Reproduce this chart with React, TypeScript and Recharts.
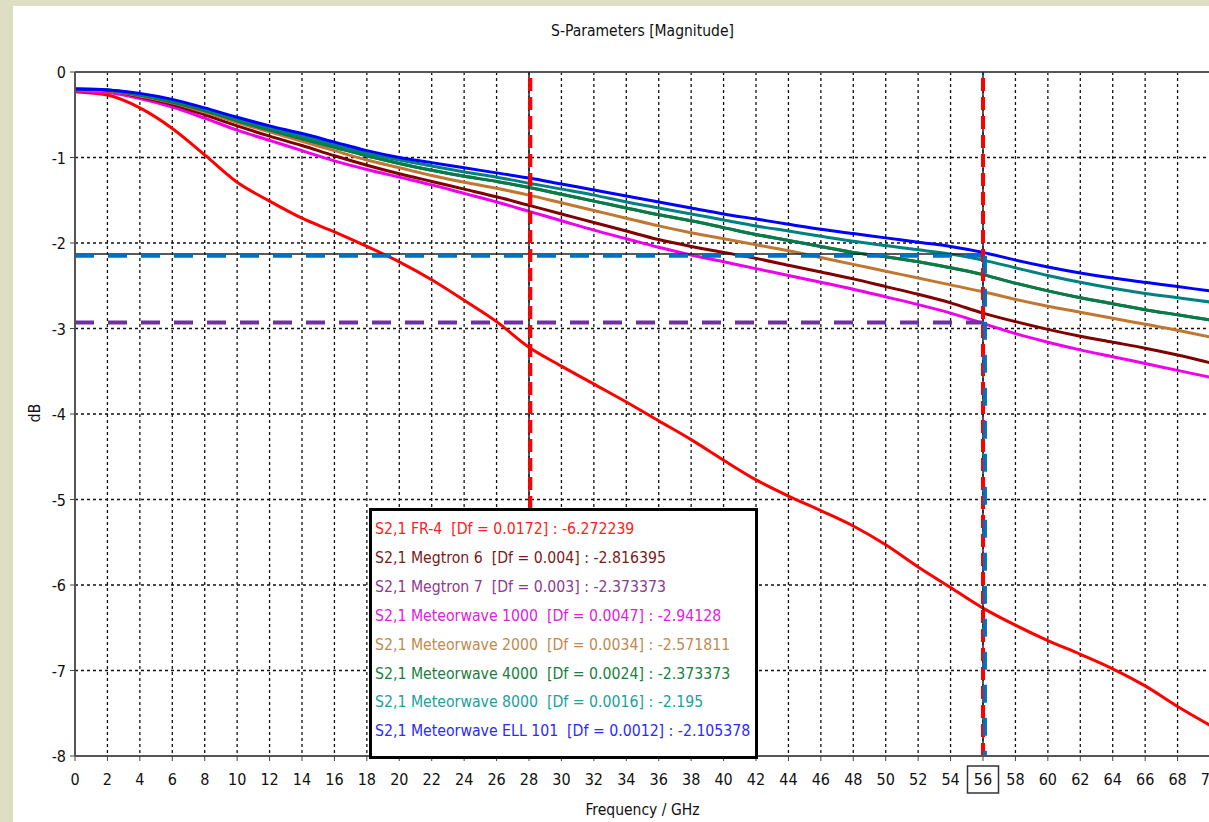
import React from 'react';
import { LineChart, Line, XAxis, YAxis, CartesianGrid, ReferenceLine } from 'recharts';

const freqs = [0, 2, 4, 6, 8, 10, 12, 14, 16, 18, 20, 22, 24, 26, 28, 30, 32, 34, 36, 38, 40, 42, 44, 46, 48, 50, 52, 54, 56, 58, 60, 62, 64, 66, 68, 70];

const fr4 = [-0.23, -0.27, -0.42, -0.66, -0.97, -1.29, -1.51, -1.71, -1.87, -2.04, -2.22, -2.43, -2.67, -2.92, -3.22, -3.44, -3.65, -3.86, -4.08, -4.30, -4.54, -4.77, -4.96, -5.13, -5.31, -5.53, -5.79, -6.03, -6.27, -6.47, -6.65, -6.81, -6.98, -7.18, -7.42, -7.64];
const megtron6 = [-0.21, -0.22, -0.29, -0.38, -0.50, -0.63, -0.75, -0.86, -0.98, -1.09, -1.19, -1.28, -1.37, -1.46, -1.56, -1.66, -1.76, -1.86, -1.96, -2.04, -2.11, -2.18, -2.26, -2.34, -2.42, -2.51, -2.60, -2.70, -2.82, -2.92, -3.01, -3.09, -3.16, -3.23, -3.31, -3.40];
const megtron7 = [-0.20, -0.21, -0.27, -0.35, -0.45, -0.57, -0.68, -0.78, -0.88, -0.98, -1.07, -1.15, -1.22, -1.28, -1.35, -1.43, -1.51, -1.59, -1.67, -1.74, -1.82, -1.90, -1.97, -2.04, -2.11, -2.16, -2.22, -2.29, -2.37, -2.47, -2.56, -2.64, -2.71, -2.78, -2.84, -2.90];
const mw1000 = [-0.22, -0.24, -0.31, -0.41, -0.54, -0.68, -0.80, -0.92, -1.04, -1.14, -1.23, -1.32, -1.42, -1.52, -1.63, -1.74, -1.85, -1.95, -2.05, -2.14, -2.22, -2.30, -2.38, -2.46, -2.54, -2.63, -2.72, -2.82, -2.94, -3.06, -3.16, -3.25, -3.33, -3.41, -3.49, -3.57];
const mw2000 = [-0.21, -0.22, -0.28, -0.36, -0.47, -0.59, -0.70, -0.81, -0.92, -1.03, -1.12, -1.21, -1.29, -1.36, -1.44, -1.53, -1.62, -1.71, -1.80, -1.88, -1.95, -2.02, -2.09, -2.17, -2.25, -2.33, -2.41, -2.49, -2.57, -2.66, -2.74, -2.81, -2.88, -2.95, -3.02, -3.10];
const mw4000 = [-0.20, -0.21, -0.27, -0.35, -0.45, -0.57, -0.68, -0.78, -0.88, -0.98, -1.07, -1.15, -1.22, -1.28, -1.35, -1.43, -1.51, -1.59, -1.67, -1.74, -1.82, -1.90, -1.97, -2.04, -2.11, -2.16, -2.22, -2.29, -2.37, -2.47, -2.56, -2.64, -2.71, -2.78, -2.84, -2.90];
const mw8000 = [-0.20, -0.21, -0.26, -0.33, -0.43, -0.55, -0.65, -0.75, -0.85, -0.95, -1.03, -1.10, -1.17, -1.23, -1.30, -1.37, -1.44, -1.52, -1.59, -1.66, -1.73, -1.80, -1.86, -1.92, -1.98, -2.03, -2.08, -2.13, -2.20, -2.29, -2.38, -2.46, -2.53, -2.59, -2.64, -2.69];
const ell101 = [-0.20, -0.21, -0.25, -0.32, -0.42, -0.53, -0.63, -0.72, -0.82, -0.92, -1.00, -1.06, -1.12, -1.18, -1.24, -1.31, -1.38, -1.45, -1.52, -1.59, -1.66, -1.72, -1.78, -1.84, -1.89, -1.94, -1.99, -2.04, -2.11, -2.20, -2.28, -2.35, -2.41, -2.46, -2.51, -2.56];

const xTicks = [0, 2, 4, 6, 8, 10, 12, 14, 16, 18, 20, 22, 24, 26, 28, 30, 32, 34, 36, 38, 40, 42, 44, 46, 48, 50, 52, 54, 56, 58, 60, 62, 64, 66, 68, 70];
const yTicks = [0, -1, -2, -3, -4, -5, -6, -7, -8];

const markerX1 = 28;
const markerX2 = 56;
const markerBlueY = -2.15;
const markerLineY = -2.13;
const markerPurpleY = -2.93;

const legendLabels = [
  'S2,1 FR-4  [Df = 0.0172] : -6.272239',
  'S2,1 Megtron 6  [Df = 0.004] : -2.816395',
  'S2,1 Megtron 7  [Df = 0.003] : -2.373373',
  'S2,1 Meteorwave 1000  [Df = 0.0047] : -2.94128',
  'S2,1 Meteorwave 2000  [Df = 0.0034] : -2.571811',
  'S2,1 Meteorwave 4000  [Df = 0.0024] : -2.373373',
  'S2,1 Meteorwave 8000  [Df = 0.0016] : -2.195',
  'S2,1 Meteorwave ELL 101  [Df = 0.0012] : -2.105378',
];
const legendColors = ['#FF2020', '#7A1A1A', '#8E3A8E', '#E020E0', '#C08A50', '#1A8040', '#20A0A0', '#2A2AFF'];

const series = [
  { key: 'fr4', values: fr4, color: '#FF0000' },
  { key: 'mw1000', values: mw1000, color: '#EE00EE' },
  { key: 'megtron6', values: megtron6, color: '#800000' },
  { key: 'mw2000', values: mw2000, color: '#C07830' },
  { key: 'megtron7', values: megtron7, color: '#7030A0' },
  { key: 'mw4000', values: mw4000, color: '#008040' },
  { key: 'mw8000', values: mw8000, color: '#008080' },
  { key: 'ell101', values: ell101, color: '#0000FF' },
];

const data = freqs.map((f, i) => {
  const row: any = { f };
  series.forEach((s) => { row[s.key] = s.values[i]; });
  return row;
});

const FONT = "'DejaVu Sans Condensed', 'DejaVu Sans', sans-serif";

const XTick = (props: any) => {
  const { x, y, payload } = props;
  const v = payload.value;
  return (
    <g>
      {v === markerX2 && (
        <rect x={x - 15.5} y={y + 3} width={31} height={27} fill="none" stroke="#333" strokeWidth={1.5} />
      )}
      <text x={x} y={y} dy={22} textAnchor="middle" fontFamily={FONT} fontSize={16} fill="#111">{v}</text>
    </g>
  );
};

const YTick = (props: any) => {
  const { x, y, payload } = props;
  return (
    <text x={x} y={y} dy={6} textAnchor="end" fontFamily={FONT} fontSize={16} fill="#111">{payload.value}</text>
  );
};

export default function App() {
  return (
    <div style={{ position: 'fixed', left: 0, top: 0, width: 1209, height: 822, background: '#DEDEC3', overflow: 'hidden' }}>
      <div style={{ position: 'absolute', left: 13, top: 6, width: 1260, height: 830, background: '#FFFFFF' }}>
        <div style={{ position: 'absolute', left: 0, width: 1259, top: 16, textAlign: 'center', fontFamily: FONT, fontSize: 15.5, color: '#111' }}>
          S-Parameters [Magnitude]
        </div>
        <div style={{ position: 'absolute', left: 0, width: 1259, top: 795, textAlign: 'center', fontFamily: FONT, fontSize: 15.5, color: '#111' }}>
          Frequency / GHz
        </div>
        <div style={{ position: 'absolute', left: 7, top: 398, width: 30, textAlign: 'center', fontFamily: FONT, fontSize: 15.5, color: '#111', transform: 'rotate(-90deg)' }}>
          dB
        </div>
        <LineChart width={1260} height={816} data={data} margin={{ top: 66, right: 63, bottom: 0, left: 0 }}>
          <CartesianGrid stroke="#111" strokeDasharray="3 3" strokeWidth={1.3} horizontal vertical />
          <XAxis dataKey="f" type="number" domain={[0, 70]} ticks={xTicks} height={66} interval={0}
            axisLine={{ stroke: '#555', strokeWidth: 2 }} tickLine={{ stroke: '#444' }} tickSize={5} tick={<XTick />} />
          <YAxis type="number" domain={[-8, 0]} ticks={yTicks} width={62} interval={0}
            axisLine={{ stroke: '#555', strokeWidth: 2 }} tickLine={{ stroke: '#444' }} tickSize={5} tickMargin={4} tick={<YTick />} />
          <ReferenceLine y={0} stroke="#555" strokeWidth={2} />
          {series.map((s) => (
            <Line key={s.key} dataKey={s.key} type="monotone" stroke={s.color} strokeWidth={3} dot={false} isAnimationActive={false} />
          ))}
          <ReferenceLine segment={[{ x: 0, y: markerLineY }, { x: markerX2, y: markerLineY }]} stroke="#222" strokeWidth={1.5} />
          <ReferenceLine x={markerX1} stroke="#222" strokeWidth={1.5} />
          <ReferenceLine x={markerX2} stroke="#222" strokeWidth={1.5} />
          <ReferenceLine segment={[{ x: 0, y: markerBlueY }, { x: markerX2, y: markerBlueY }]} stroke="#0070C0" strokeWidth={4} strokeDasharray="19 14" />
          <ReferenceLine segment={[{ x: 0, y: markerPurpleY }, { x: markerX2, y: markerPurpleY }]} stroke="#7030A0" strokeWidth={4} strokeDasharray="19 14" />
          <ReferenceLine x={markerX1 + 0.08} stroke="#FF0000" strokeWidth={4} strokeDasharray="13 6" />
          <ReferenceLine x={markerX2} stroke="#FF0000" strokeWidth={4} strokeDasharray="13 6" />
          <ReferenceLine segment={[{ x: markerX2 + 0.12, y: markerBlueY }, { x: markerX2 + 0.12, y: -8 }]} stroke="#0070C0" strokeWidth={4} strokeDasharray="18 15" />
        </LineChart>
        <div style={{ position: 'absolute', left: 356, top: 502, width: 380, height: 241, border: '3px solid #000', background: '#FFFFFF', padding: '4px 0 0 3px', fontFamily: FONT, fontSize: 15.7 }}>
          {legendLabels.map((lbl, i) => (
            <div key={lbl} style={{ color: legendColors[i], lineHeight: '28.9px', whiteSpace: 'pre' }}>{lbl}</div>
          ))}
        </div>
      </div>
    </div>
  );
}
